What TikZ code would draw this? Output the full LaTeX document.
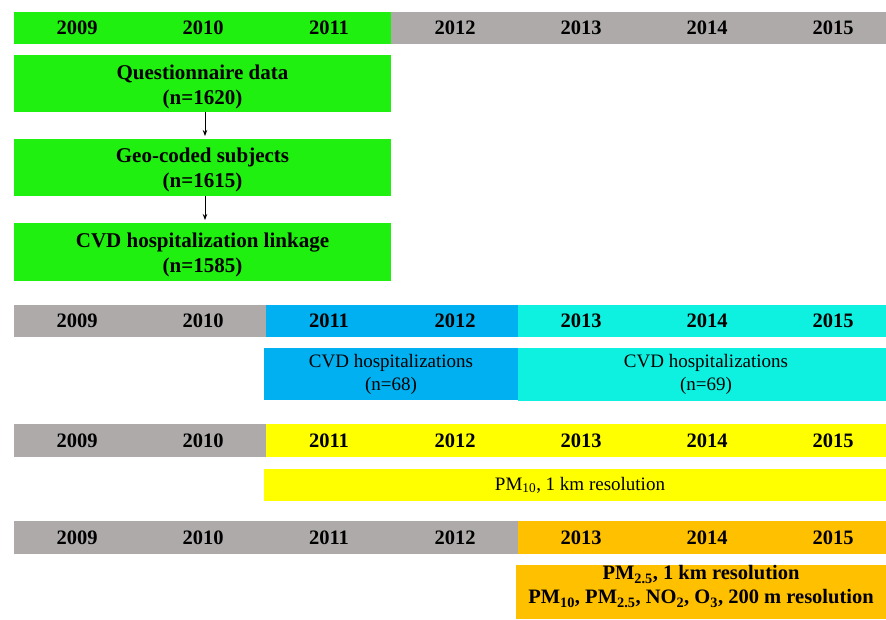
\documentclass[tikz,border=0pt]{standalone}
\usepackage{fontspec}
\setmainfont{Liberation Serif}
\usetikzlibrary{arrows.meta}
\definecolor{cgreen}{RGB}{32,240,16}
\definecolor{cgrey}{RGB}{174,170,170}
\definecolor{cblue}{RGB}{0,176,240}
\definecolor{ccyan}{RGB}{14,240,224}
\definecolor{cyellow}{RGB}{255,255,0}
\definecolor{corange}{RGB}{255,192,0}
\tikzset{
  yr/.style={font=\fontsize{20.5}{22}\selectfont\bfseries, inner sep=0pt},
  boldtxt/.style={font=\fontsize{21}{25}\selectfont\bfseries, align=center, inner sep=0pt},
  regtxt/.style={font=\fontsize{19}{23}\selectfont, align=center, inner sep=0pt},
  orgtxt/.style={font=\fontsize{20.5}{24}\selectfont\bfseries, align=center, inner sep=0pt},
  arr/.style={-{Stealth[length=6pt,width=4.5pt]}, line width=0.8pt, shorten >=3pt}
}
\begin{document}
\begin{tikzpicture}[x=1pt,y=-1pt]
\useasboundingbox (0,0) rectangle (886,619);
% ---- row 1
\fill[cgreen] (14,12) rectangle (391,44);
\fill[cgrey] (391,12) rectangle (886,44);
\foreach \y/\x in {2009/77,2010/203,2011/329,2012/455,2013/581,2014/707,2015/833}
  \node[yr] (ra\y) at (\x,28) {\y};
\fill[cgreen] (14,55) rectangle (391,112);
\node[boldtxt] (q) at (202.5,86.5) {Questionnaire data\\(n=1620)};
\coordinate (qs) at (205,112);
\fill[cgreen] (14,139) rectangle (391,196);
\node[boldtxt] (g) at (202.5,170) {Geo-coded subjects\\(n=1615)};
\coordinate (gn) at (205,139);
\coordinate (gs) at (205,196);
\fill[cgreen] (14,223) rectangle (391,281);
\node[boldtxt] (c) at (202.5,254.5) {CVD hospitalization linkage\\(n=1585)};
\coordinate (cn) at (205,223);
\draw[arr] (qs) -- (gn);
\draw[arr] (gs) -- (cn);
% ---- row 2
\fill[cgrey] (14,305) rectangle (266,337);
\fill[cblue] (266,305) rectangle (518,337);
\fill[ccyan] (518,305) rectangle (886,337);
\foreach \y/\x in {2009/77,2010/203,2011/329,2012/455,2013/581,2014/707,2015/833}
  \node[yr] (rb\y) at (\x,321) {\y};
\fill[cblue] (264,348) rectangle (518,400);
\node[regtxt] (h1) at (391,374.5) {CVD hospitalizations\\(n=68)};
\fill[ccyan] (518,348) rectangle (886,401);
\node[regtxt] (h2) at (706,374.5) {CVD hospitalizations\\(n=69)};
% ---- row 3
\fill[cgrey] (14,424) rectangle (266,457);
\fill[cyellow] (266,424) rectangle (886,457);
\foreach \y/\x in {2009/77,2010/203,2011/329,2012/455,2013/581,2014/707,2015/833}
  \node[yr] (rc\y) at (\x,440.5) {\y};
\fill[cyellow] (264,469) rectangle (886,501);
\node[regtxt] (pm) at (580,485) {PM\textsubscript{10}, 1 km resolution};
% ---- row 4
\fill[cgrey] (14,521) rectangle (518,554);
\fill[corange] (518,521) rectangle (886,554);
\foreach \y/\x in {2009/77,2010/203,2011/329,2012/455,2013/581,2014/707,2015/833}
  \node[yr] (rd\y) at (\x,537.5) {\y};
\fill[corange] (516,565) rectangle (886,619);
\node[orgtxt] (pm2) at (701,586.5) {PM\textsubscript{2.5}, 1 km resolution\\PM\textsubscript{10}, PM\textsubscript{2.5}, NO\textsubscript{2}, O\textsubscript{3}, 200 m resolution};
\end{tikzpicture}
\end{document}
